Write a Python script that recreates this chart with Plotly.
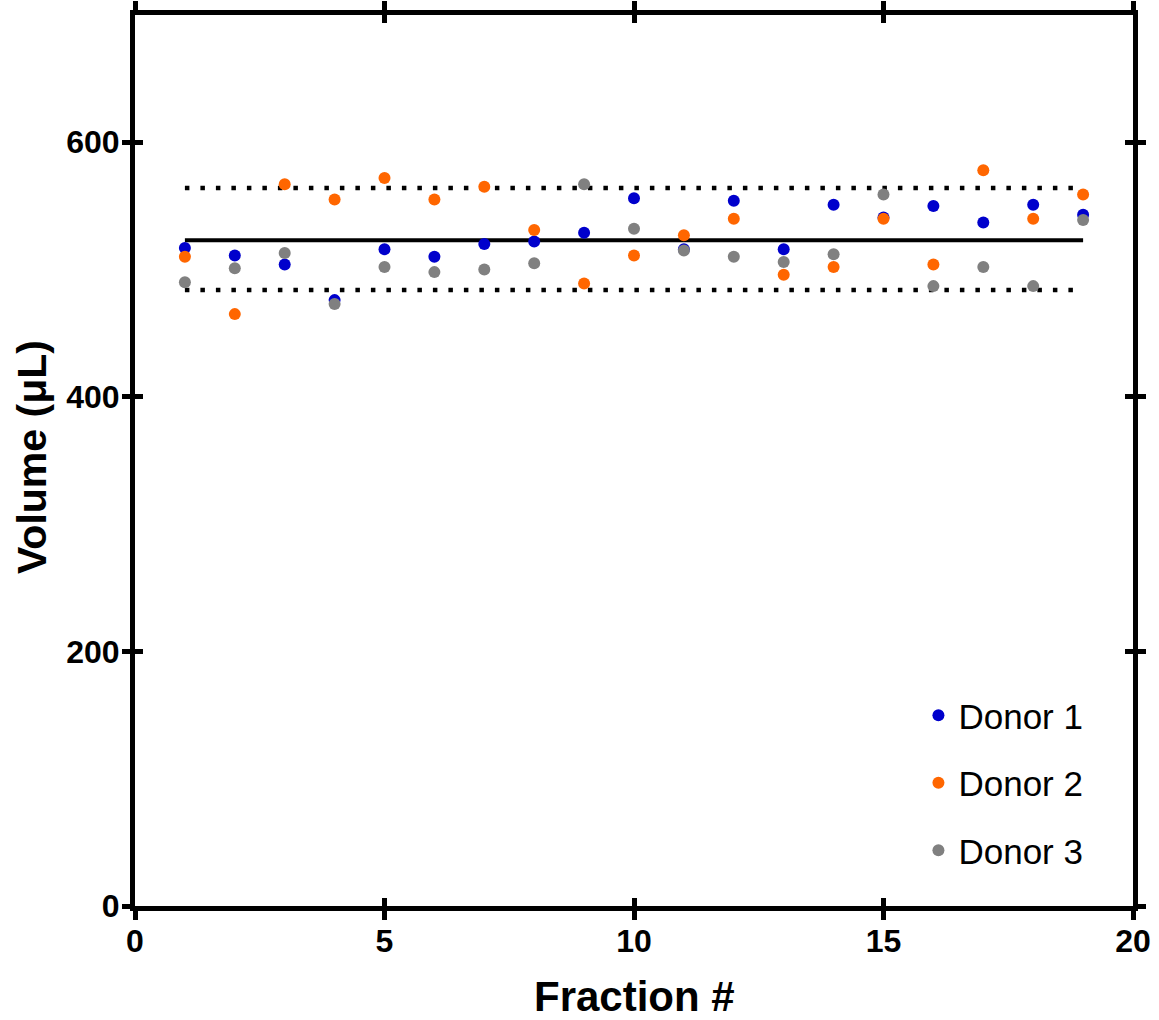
import plotly.graph_objects as go

fractions = list(range(1, 20))
donor1 = [517, 511, 504, 476, 516, 510, 520, 522, 529, 556, 516, 554, 516, 551, 541, 550, 537, 551, 543]
donor2 = [510, 465, 567, 555, 572, 555, 565, 531, 489, 511, 527, 540, 496, 502, 540, 504, 578, 540, 559]
donor3 = [490, 501, 513, 473, 502, 498, 500, 505, 567, 532, 515, 510, 506, 512, 559, 487, 502, 487, 539]
series_names = ["Donor 1", "Donor 2", "Donor 3"]
colors = ["#0000CC", "#FF6600", "#808080"]

mean_value = 523
upper_value = 564
lower_value = 484
line_x = [1, 19]

x_ticks = [0, 5, 10, 15, 20]
y_ticks = [0, 200, 400, 600]
x_title = "Fraction #"
y_title = "Volume (μL)"

font_family = "Arial, Liberation Sans, sans-serif"

fig = go.Figure()

fig.add_trace(go.Scatter(x=line_x, y=[mean_value, mean_value], mode="lines",
                         line=dict(color="black", width=4), showlegend=False, hoverinfo="skip"))
for yv in (upper_value, lower_value):
    fig.add_trace(go.Scatter(x=line_x, y=[yv, yv], mode="lines",
                             line=dict(color="black", width=4.5, dash="4.5px,11px"),
                             showlegend=False, hoverinfo="skip"))

for i, (name, vals, c) in enumerate(zip(series_names, [donor1, donor2, donor3], colors)):
    fig.add_trace(go.Scatter(x=fractions, y=vals, mode="markers", name=name,
                             legendgroup=f"g{i}",
                             marker=dict(color=c, size=12, line=dict(width=0))))

# invisible trace for secondary axes (inside ticks)
fig.add_trace(go.Scatter(x=[0], y=[0], xaxis="x2", yaxis="y2", mode="markers",
                         marker=dict(opacity=0), showlegend=False, hoverinfo="skip"))

axis_common = dict(showgrid=False, zeroline=False, showline=True, linecolor="black",
                   linewidth=5, tickcolor="black", tickwidth=5, automargin=False)

fig.update_layout(
    width=1159, height=1020,
    margin=dict(l=135, r=26, t=15, b=114),
    plot_bgcolor="white", paper_bgcolor="white",
    font=dict(family=font_family, color="black"),
    xaxis=dict(range=[0, 20], tickvals=x_ticks, ticks="outside", ticklen=9,
               mirror="allticks", ticklabelstandoff=-6,
               tickfont=dict(size=32, family=font_family, weight="bold"),
               **axis_common),
    yaxis=dict(range=[0, 700], tickvals=y_ticks, ticks="outside", ticklen=8,
               mirror="allticks", ticklabelstandoff=-4,
               tickfont=dict(size=32, family=font_family, weight="bold"),
               **axis_common),
    xaxis2=dict(range=[0, 20], tickvals=x_ticks, ticks="inside", ticklen=8,
                mirror="allticks", overlaying="x", showticklabels=False, **axis_common),
    yaxis2=dict(range=[0, 700], tickvals=y_ticks, ticks="inside", ticklen=8,
                mirror="allticks", overlaying="y", showticklabels=False, **axis_common),
    legend=dict(x=0.785, y=0.247, xanchor="left", yanchor="top",
                font=dict(size=35, family=font_family), bgcolor="rgba(0,0,0,0)",
                tracegroupgap=19, itemsizing="trace"),
    showlegend=True,
    annotations=[
        dict(text=f"<b>{x_title}</b>", xref="paper", yref="paper", x=0.5, y=0,
             xanchor="center", yanchor="middle", yshift=-90, showarrow=False,
             font=dict(size=42, family=font_family)),
        dict(text=f"<b>{y_title}</b>", xref="paper", yref="paper", x=0, y=0.504,
             xanchor="center", yanchor="middle", xshift=-103, textangle=-90,
             showarrow=False, font=dict(size=41, family=font_family)),
    ],
)

fig.write_html("out.html", config={"displayModeBar": False},
               post_script="document.body.style.margin='0';")
